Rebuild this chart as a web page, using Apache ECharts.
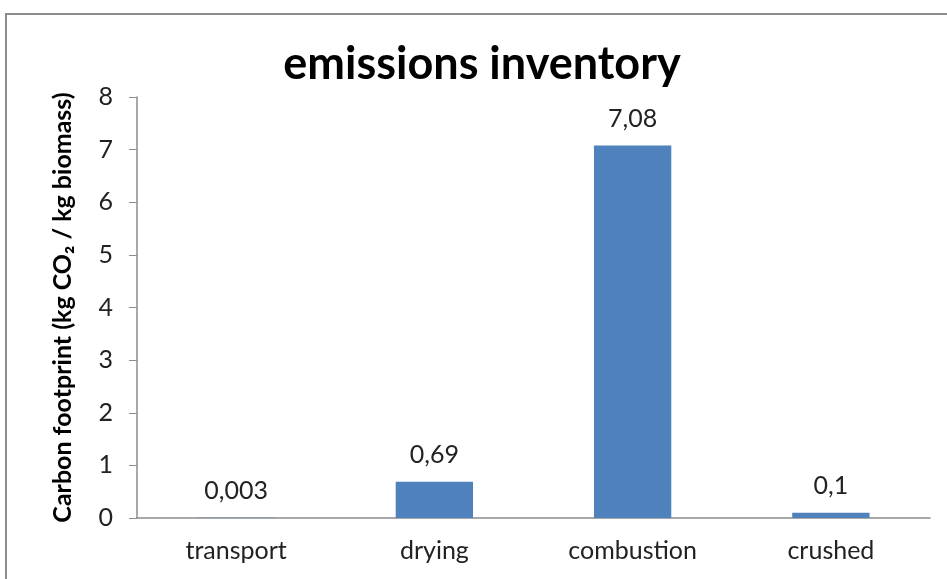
<!DOCTYPE html>
<html>
<head>
<meta charset="utf-8">
<script src="https://cdn.jsdelivr.net/npm/echarts@6/dist/echarts.min.js"></script>
<style>html,body{margin:0;padding:0;background:#fff}#c{width:947px;height:579px}</style>
</head>
<body>
<div id="c"></div>
<script>
const categories = ['transport', 'drying', 'combustion', 'crushed'];
const values = [0.003, 0.69, 7.08, 0.1];
const valueLabels = ['0,003', '0,69', '7,08', '0,1'];
const yTicks = [0, 1, 2, 3, 4, 5, 6, 7, 8];
const titleText = 'emissions inventory';
const yName = 'Carbon footprint (kg CO\u2082 / kg biomass)';

const FONT = 'Lato, "Open Sans", sans-serif';
const chart = echarts.init(document.getElementById('c'));
chart.setOption({
  animation: false,
  backgroundColor: '#fff',
  title: {
    text: titleText,
    left: 477, top: 37, textAlign: 'center',
    textStyle: { fontFamily: FONT, fontWeight: 'bold', fontSize: 45, color: '#000' }
  },
  graphic: [
    { type: 'line', shape: { x1: 5, y1: 14, x2: 947, y2: 14 }, style: { stroke: '#8c8c8c', lineWidth: 2 } },
    { type: 'line', shape: { x1: 6, y1: 14, x2: 6, y2: 579 }, style: { stroke: '#8c8c8c', lineWidth: 2 } }
  ],
  grid: { left: 137, right: 17, top: 97, bottom: 61 },
  xAxis: {
    type: 'category', data: categories,
    axisLine: { lineStyle: { color: '#8c8c8c', width: 1.5 } },
    axisTick: { show: false },
    axisLabel: { fontFamily: FONT, fontSize: 25, color: '#222', margin: 20 }
  },
  yAxis: {
    type: 'value', min: yTicks[0], max: yTicks[yTicks.length - 1], interval: 1,
    name: yName, nameLocation: 'middle', nameGap: 62,
    nameTextStyle: { fontFamily: FONT, fontWeight: 'bold', fontSize: 25, color: '#000' },
    axisLine: { show: true, lineStyle: { color: '#8c8c8c', width: 1.5 } },
    axisTick: { show: true, inside: false, length: 8, lineStyle: { color: '#8c8c8c' } },
    splitLine: { show: false },
    axisLabel: { fontFamily: FONT, fontSize: 25, color: '#222', margin: 24 }
  },
  series: [{
    type: 'bar', data: values, barWidth: '39%',
    itemStyle: { color: '#4F81BD' },
    label: {
      show: true, position: 'top', distance: 14,
      fontFamily: FONT, fontSize: 25, color: '#222',
      formatter: p => valueLabels[p.dataIndex]
    }
  }]
});
</script>
</body>
</html>
